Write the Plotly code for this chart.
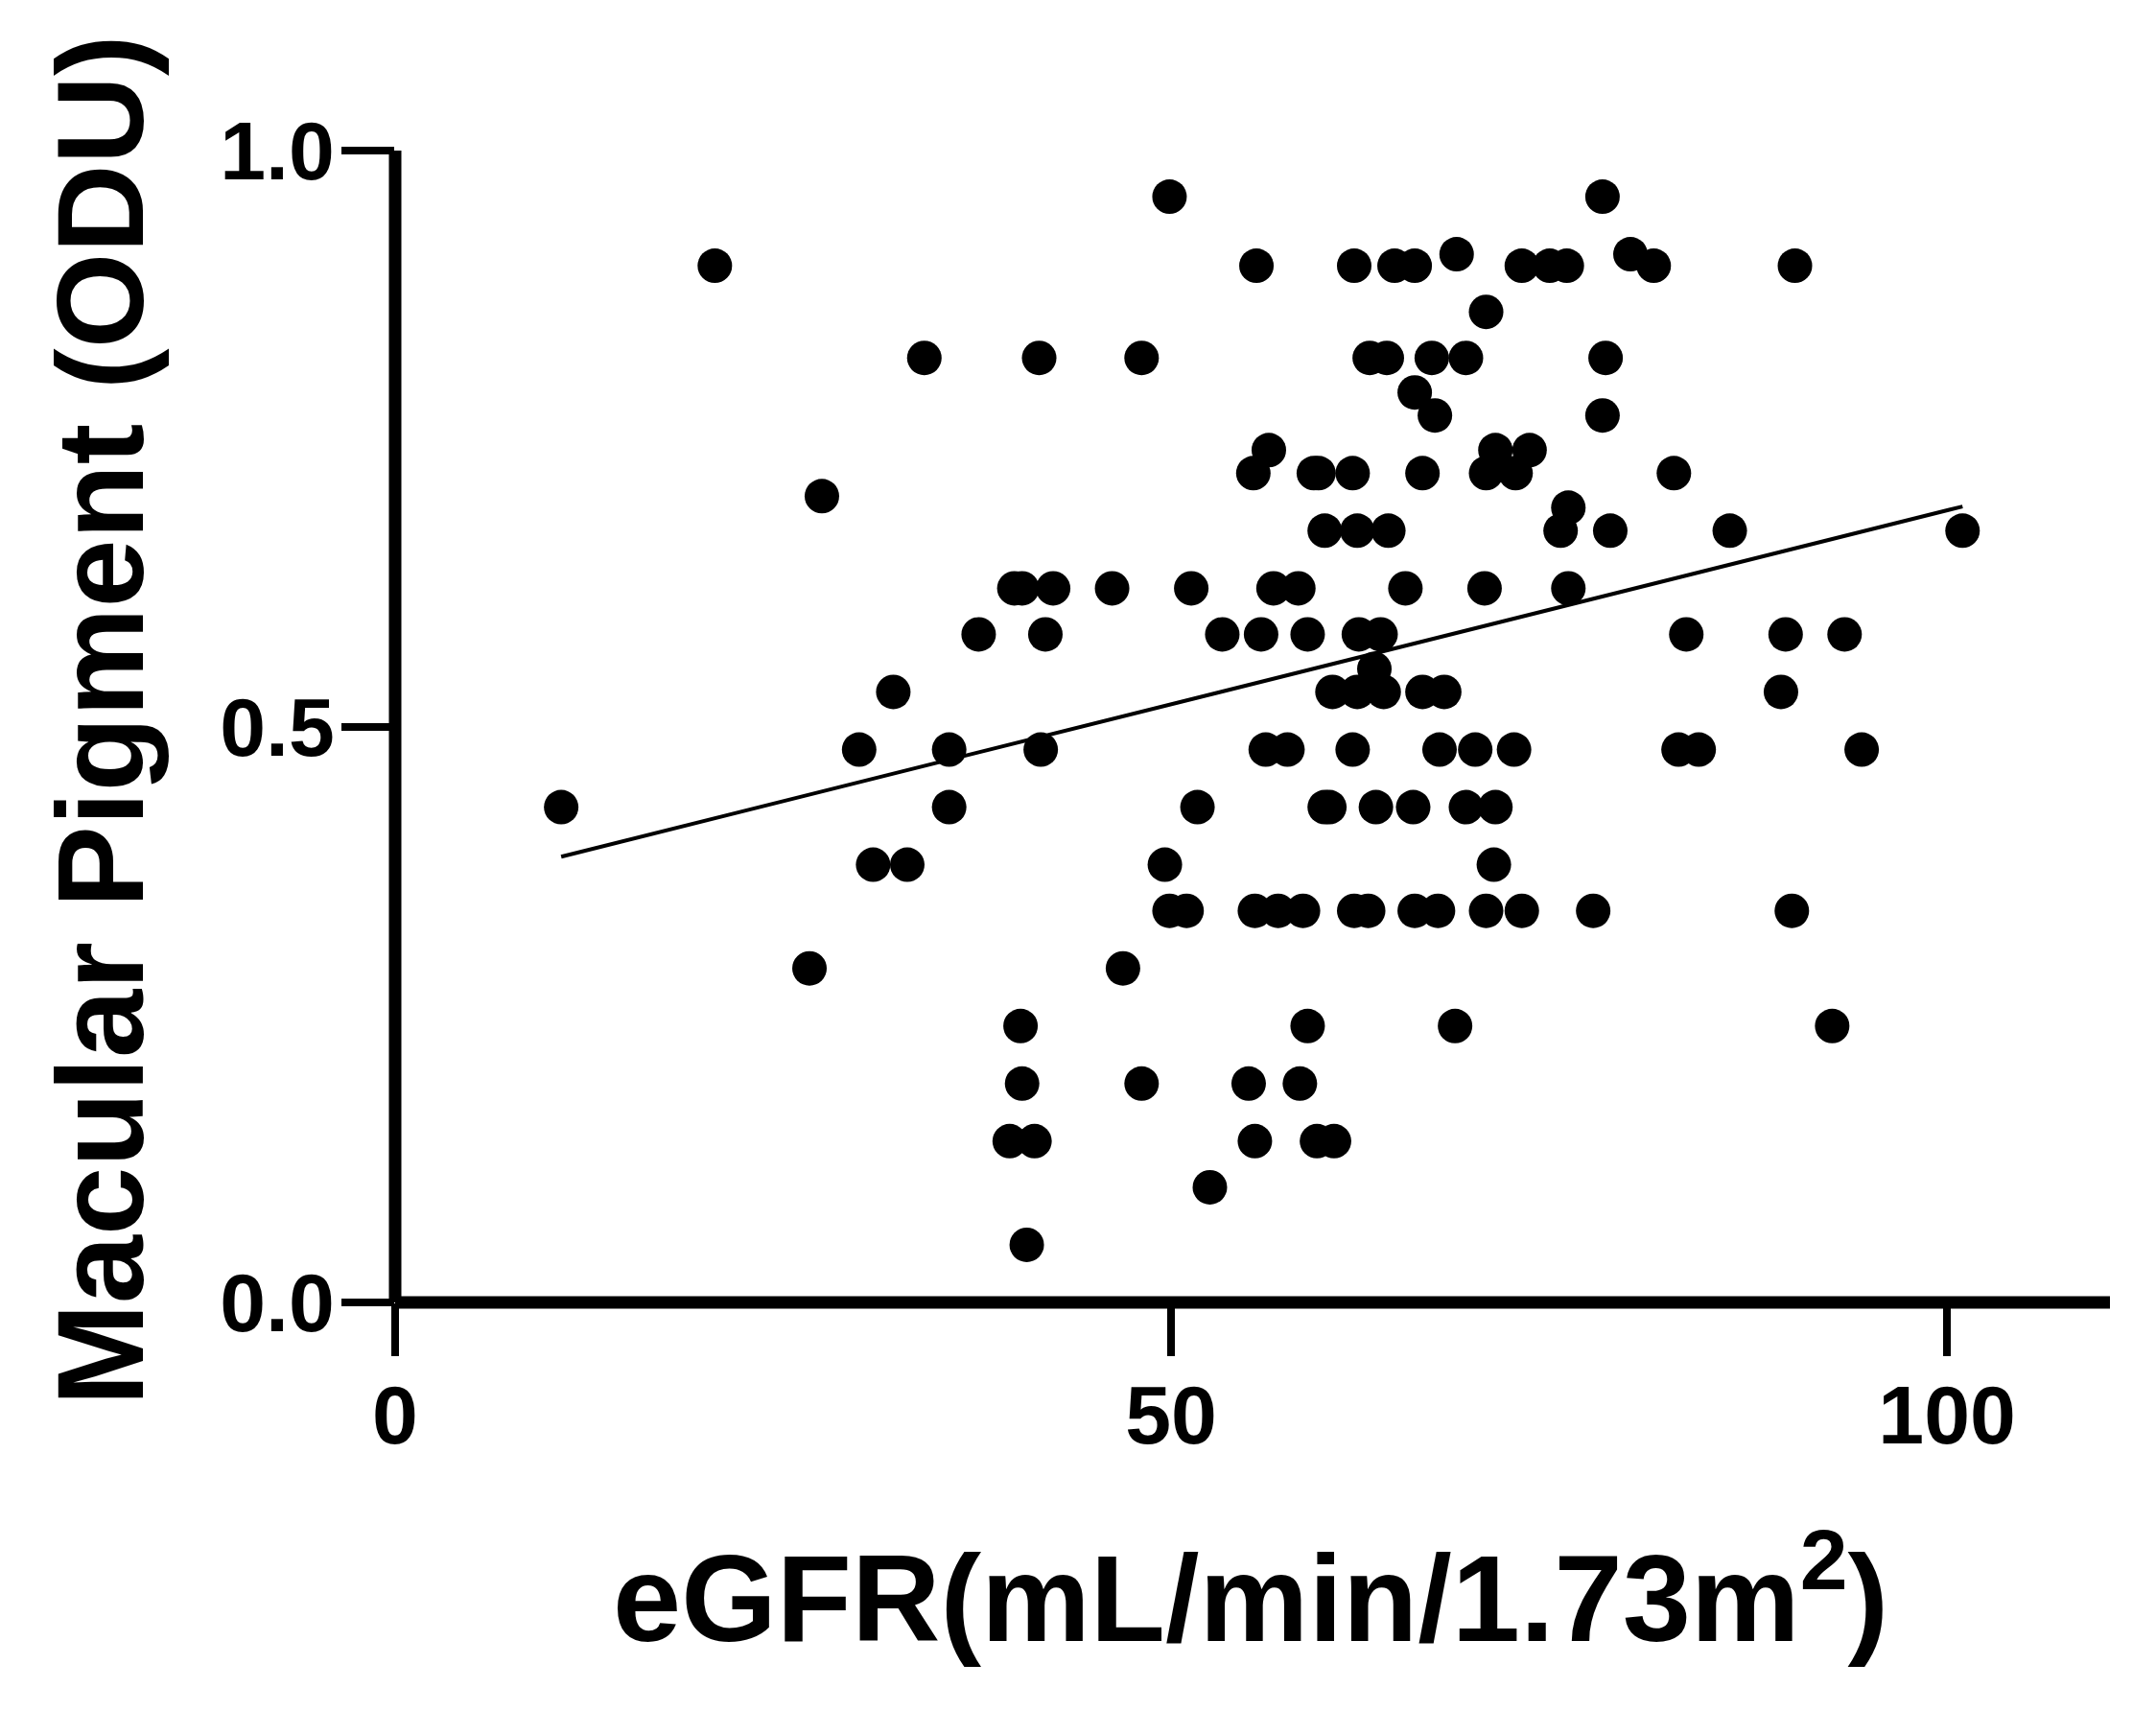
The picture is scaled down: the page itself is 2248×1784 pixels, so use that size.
import plotly.graph_objects as go

# eGFR vs macular pigment
egfr = [
    49.9, 77.8,
    68.4, 79.6,
    20.6, 55.5, 61.8, 64.4, 65.7, 72.6, 74.4, 75.5, 81.1, 90.2,
    70.3,
    34.1, 41.5, 48.1, 62.8, 63.9, 66.8, 69.0, 78.0,
    65.7,
    67.0, 77.8,
    56.3, 70.9, 73.1,
    55.3, 59.2, 59.5, 61.7, 66.2, 70.3, 72.2, 82.4,
    27.5,
    75.6,
    59.9, 62.0, 64.0, 75.1, 78.3, 86.0, 101.0,
    39.9, 40.4, 42.4, 46.2, 51.3, 56.6, 58.2, 65.1, 70.2, 75.6,
    37.6, 41.9, 53.3, 55.8, 58.8, 62.1, 63.5, 83.2, 89.6, 93.4,
    63.1,
    32.1, 60.4, 62.0, 63.7, 66.2, 67.6, 89.3,
    29.9, 35.7, 41.6, 56.1, 57.5, 61.7, 67.3, 69.6, 72.1, 82.7, 84.0, 94.5,
    10.7, 35.7, 51.7, 59.9, 60.2, 63.2, 65.6, 69.0, 70.9,
    30.8, 33.0, 49.6, 70.8,
    49.9, 51.0, 55.4, 56.9, 58.5, 61.8, 62.7, 65.7, 67.2, 70.3, 72.6, 77.2, 90.0,
    26.7, 46.9,
    40.3, 58.8, 68.3, 92.6,
    40.4, 48.1, 55.0, 58.3,
    39.6, 41.2, 55.4, 59.4, 60.5,
    52.5,
    40.7,
]
mpod = [
    0.96, 0.96,
    0.91, 0.91,
    0.90, 0.90, 0.90, 0.90, 0.90, 0.90, 0.90, 0.90, 0.90, 0.90,
    0.86,
    0.82, 0.82, 0.82, 0.82, 0.82, 0.82, 0.82, 0.82,
    0.79,
    0.77, 0.77,
    0.74, 0.74, 0.74,
    0.72, 0.72, 0.72, 0.72, 0.72, 0.72, 0.72, 0.72,
    0.70,
    0.69,
    0.67, 0.67, 0.67, 0.67, 0.67, 0.67, 0.67,
    0.62, 0.62, 0.62, 0.62, 0.62, 0.62, 0.62, 0.62, 0.62, 0.62,
    0.58, 0.58, 0.58, 0.58, 0.58, 0.58, 0.58, 0.58, 0.58, 0.58,
    0.55,
    0.53, 0.53, 0.53, 0.53, 0.53, 0.53, 0.53,
    0.48, 0.48, 0.48, 0.48, 0.48, 0.48, 0.48, 0.48, 0.48, 0.48, 0.48, 0.48,
    0.43, 0.43, 0.43, 0.43, 0.43, 0.43, 0.43, 0.43, 0.43,
    0.38, 0.38, 0.38, 0.38,
    0.34, 0.34, 0.34, 0.34, 0.34, 0.34, 0.34, 0.34, 0.34, 0.34, 0.34, 0.34, 0.34,
    0.29, 0.29,
    0.24, 0.24, 0.24, 0.24,
    0.19, 0.19, 0.19, 0.19,
    0.14, 0.14, 0.14, 0.14, 0.14,
    0.10,
    0.05,
]

# regression line end points as drawn in the figure
fit_egfr = [10.7, 101.0]
fit_mpod = [0.387, 0.691]

x_ticks = [0, 50, 100]
y_ticks = [0.0, 0.5, 1.0]

FONT = "Liberation Sans, Arial, sans-serif"

fig = go.Figure()

fig.add_trace(go.Scatter(
    x=egfr, y=mpod, mode="markers",
    marker=dict(size=36, color="black", line=dict(width=0)),
    showlegend=False
))

fig.add_trace(go.Scatter(
    x=fit_egfr, y=fit_mpod, mode="lines",
    line=dict(width=4, color="black"),
    showlegend=False
))

axis_style = dict(
    showgrid=False, zeroline=False, showline=False,
    ticks="outside", ticklen=55, tickwidth=8, tickcolor="black",
    tickfont=dict(family=FONT, size=86, color="black", weight="bold"),
)

fig.update_xaxes(range=[0, 110.5], tickvals=x_ticks, ticklabelstandoff=-12, **axis_style)
fig.update_yaxes(range=[0, 1.0], tickvals=y_ticks, tickformat=".1f",
                 ticklabelstandoff=-10, **axis_style)

# axis lines centred on the plot edges (paper refs so they are not clipped)
fig.add_shape(type="line", xref="paper", yref="paper", x0=0, x1=1, y0=0, y1=0,
              line=dict(color="black", width=13))
fig.add_shape(type="line", xref="paper", yref="paper", x0=0, x1=0, y0=0, y1=1,
              line=dict(color="black", width=13))

fig.add_annotation(
    text="eGFR(mL/min/1.73m<sup>2</sup>)",
    xref="paper", yref="paper", x=0.499, y=-0.249,
    xanchor="center", yanchor="middle", showarrow=False,
    font=dict(family=FONT, size=128, color="black", weight="bold")
)
fig.add_annotation(
    text="Macular Pigment (ODU)",
    xref="paper", yref="paper", x=-0.172, y=0.506, textangle=-90,
    xanchor="center", yanchor="middle", showarrow=False,
    font=dict(family=FONT, size=128, color="black", weight="bold")
)

fig.update_layout(
    width=2248, height=1784,
    margin=dict(l=404, r=56, t=149, b=434),
    plot_bgcolor="white", paper_bgcolor="white",
)

fig.write_html("out.html")
